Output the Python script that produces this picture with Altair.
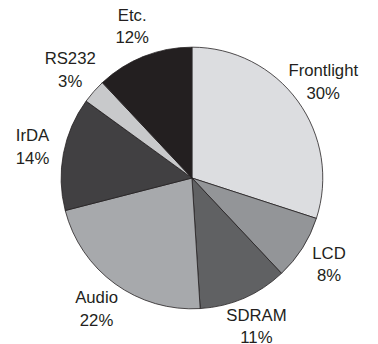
import altair as alt
import pandas as pd

categories = ["Frontlight", "LCD", "SDRAM", "Audio", "IrDA", "RS232", "Etc."]
shares = [30, 8, 11, 22, 14, 3, 12]
colors = ["#dcdde0", "#939598", "#606163", "#a7a9ac", "#414042", "#c8c9cb", "#231f20"]

df = pd.DataFrame({
    "category": categories,
    "share": shares,
    "order": list(range(len(categories))),
    "pct": [f"{s}%" for s in shares],
})

base = alt.Chart(df).encode(
    theta=alt.Theta("share:Q", stack=True),
    order=alt.Order("order:Q", sort="ascending"),
)

pie = base.mark_arc(outerRadius=133, stroke="#231f20", strokeWidth=0.8).encode(
    color=alt.Color("category:N", scale=alt.Scale(domain=categories, range=colors), legend=None)
)

txt = dict(radius=165, font="Liberation Sans", fontSize=17, color="#231f20", baseline="middle", align="center")
name = base.mark_text(dy=-11.5, **txt).encode(text="category:N")
pct = base.mark_text(dy=11.5, **txt).encode(text="pct:N")

chart = alt.layer(pie, name, pct).properties(
    width=352, height=334,
    autosize=alt.AutoSizeParams(type="none"),
    padding={"left": 11, "top": 3, "right": 5, "bottom": 2},
).configure_view(stroke=None)

chart.save("out.html", embed_options={"renderer": "svg", "actions": False})
